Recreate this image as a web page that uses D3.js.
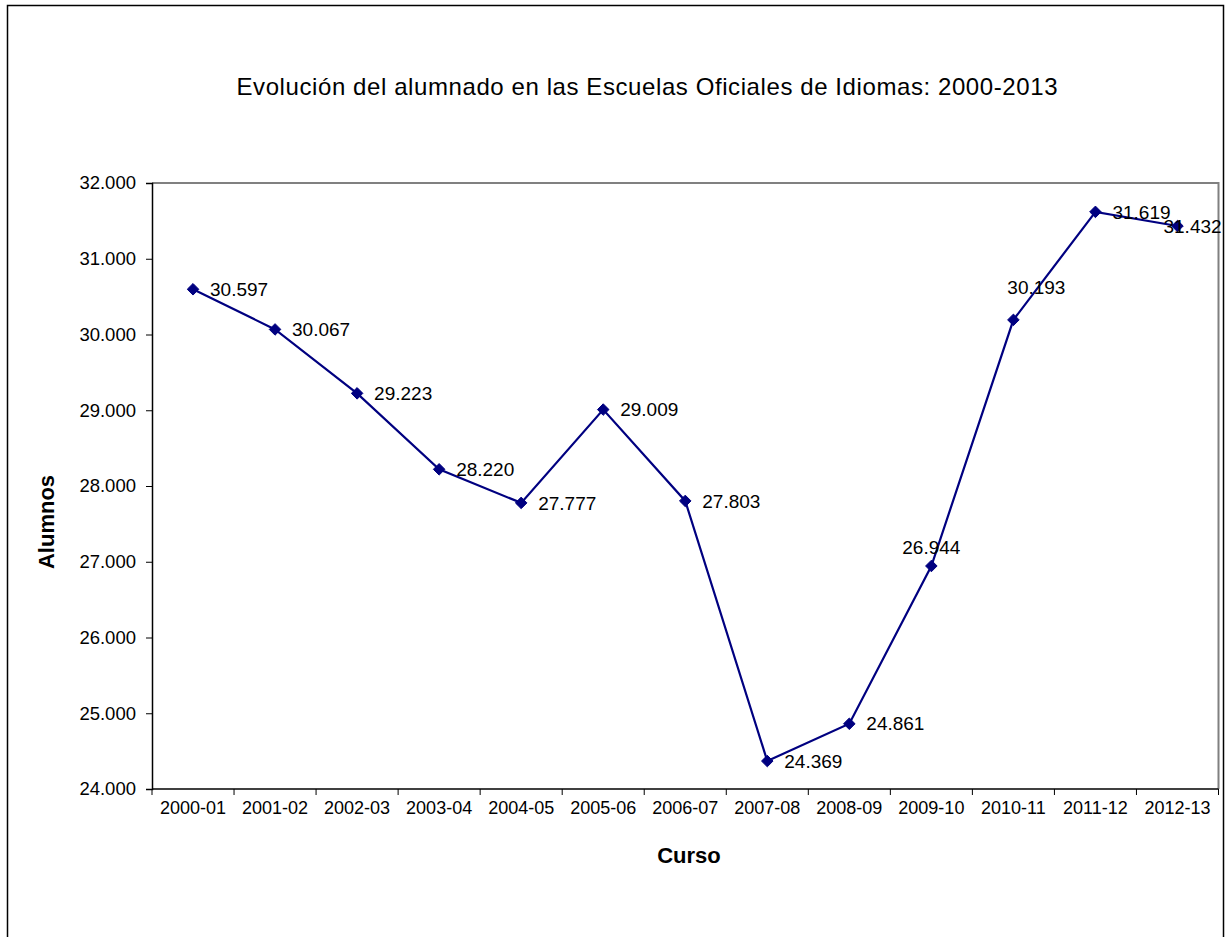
<!DOCTYPE html>
<html>
<head>
<meta charset="utf-8">
<script src="https://cdn.jsdelivr.net/npm/d3@7/dist/d3.min.js"></script>
<style>
  html, body { margin: 0; padding: 0; background: #fff; }
  svg { display: block; font-family: "Liberation Sans", Arial, sans-serif; }
</style>
</head>
<body>
<svg id="chart" width="1231" height="937"></svg>
<script>
const categories = ["2000-01","2001-02","2002-03","2003-04","2004-05","2005-06","2006-07","2007-08","2008-09","2009-10","2010-11","2011-12","2012-13"];
const alumnos = [30597, 30067, 29223, 28220, 27777, 29009, 27803, 24369, 24861, 26944, 30193, 31619, 31432];
const yTicks = [24000, 25000, 26000, 27000, 28000, 29000, 30000, 31000, 32000];
// label placement relative to point: "r" right, "t" above, "tl" above-left, "o" overlapping right
const labelPlacement = ["r","r","r","r","r","r","r","r","r","t","tl","r","o"];

const titleText = "Evolución del alumnado en las Escuelas Oficiales de Idiomas: 2000-2013";
const yTitle = "Alumnos";
const xTitle = "Curso";

const svg = d3.select("#chart");
const plot = { left: 152, top: 183, right: 1218.5, bottom: 789 };

// outer frame
svg.append("rect").attr("x", 7.5).attr("y", 5.5).attr("width", 1216).attr("height", 940)
  .attr("fill", "#fff").attr("stroke", "#000").attr("stroke-width", 1.5);

const fmt = d => d3.format(",")(d).replace(/,/g, ".");

const x = d3.scaleBand().domain(categories).range([plot.left, plot.right]).padding(0);
const y = d3.scaleLinear().domain([24000, 32000]).range([plot.bottom, plot.top]);

// plot border (top/right gray)
svg.append("path")
  .attr("d", `M${plot.left},${plot.top}H${plot.right}V${plot.bottom}`)
  .attr("fill", "none").attr("stroke", "#808080").attr("stroke-width", 2);

// Y axis
const yAxis = svg.append("g").attr("transform", `translate(${plot.left},0)`)
  .call(d3.axisLeft(y).tickValues(yTicks).tickFormat(fmt).tickSize(6).tickPadding(10));
yAxis.select(".domain").attr("stroke", "#000").attr("stroke-width", 1.5);
yAxis.selectAll(".tick line").attr("stroke", "#000");
yAxis.selectAll("text").attr("font-size", 18.5).attr("fill", "#000")
  .attr("font-family", "'Liberation Sans', Arial, sans-serif");

// X axis with ticks at category boundaries
const xAxisG = svg.append("g").attr("transform", `translate(0,${plot.bottom})`);
xAxisG.append("line").attr("x1", plot.left).attr("x2", plot.right)
  .attr("stroke", "#000").attr("stroke-width", 1.5);
const boundaries = categories.map(c => x(c)).concat([plot.right]);
xAxisG.selectAll("line.tk").data(boundaries).join("line").attr("class", "tk")
  .attr("x1", d => d).attr("x2", d => d).attr("y1", 0).attr("y2", 6)
  .attr("stroke", "#000").attr("stroke-width", 1);
xAxisG.selectAll("text").data(categories).join("text")
  .attr("x", d => x(d) + x.bandwidth() / 2).attr("y", 25)
  .attr("text-anchor", "middle").attr("font-size", 18).attr("fill", "#000")
  .text(d => d);

// Title
svg.append("text").attr("x", 647).attr("y", 95).attr("text-anchor", "middle")
  .attr("font-size", 24).attr("textLength", 821).attr("lengthAdjust", "spacing")
  .attr("fill", "#000").text(titleText);

// Axis titles
svg.append("text").attr("x", 689).attr("y", 863).attr("text-anchor", "middle")
  .attr("font-size", 22).attr("font-weight", "bold").attr("fill", "#000").text(xTitle);
svg.append("text").attr("transform", "translate(54,522) rotate(-90)").attr("text-anchor", "middle")
  .attr("font-size", 22).attr("font-weight", "bold").attr("fill", "#000").text(yTitle);

// Line
const data = categories.map((c, i) => ({ c, v: alumnos[i], p: labelPlacement[i] }));
const cx = d => x(d.c) + x.bandwidth() / 2;
const line = d3.line().x(cx).y(d => y(d.v));
svg.append("path").datum(data).attr("d", line)
  .attr("fill", "none").attr("stroke", "#000080").attr("stroke-width", 2.2);

// Markers (diamonds)
svg.selectAll("path.mk").data(data).join("path").attr("class", "mk")
  .attr("transform", d => `translate(${cx(d)},${y(d.v)})`)
  .attr("d", d3.symbol().type(d3.symbolDiamond2).size(85))
  .attr("fill", "#000080").attr("stroke", "#000080").attr("stroke-width", 1);

// Data labels
const off = {
  r:  { dx: 17, dy: 0, anchor: "start" },
  t:  { dx: 0, dy: -19, anchor: "middle" },
  tl: { dx: 23, dy: -33, anchor: "middle" },
  o:  { dx: -14, dy: 0, anchor: "start" }
};
svg.selectAll("text.lbl").data(data).join("text").attr("class", "lbl")
  .attr("x", d => cx(d) + off[d.p].dx)
  .attr("y", d => y(d.v) + off[d.p].dy)
  .attr("dy", "0.35em")
  .attr("text-anchor", d => off[d.p].anchor)
  .attr("font-size", 19).attr("fill", "#000")
  .text(d => fmt(d.v));
</script>
</body>
</html>
